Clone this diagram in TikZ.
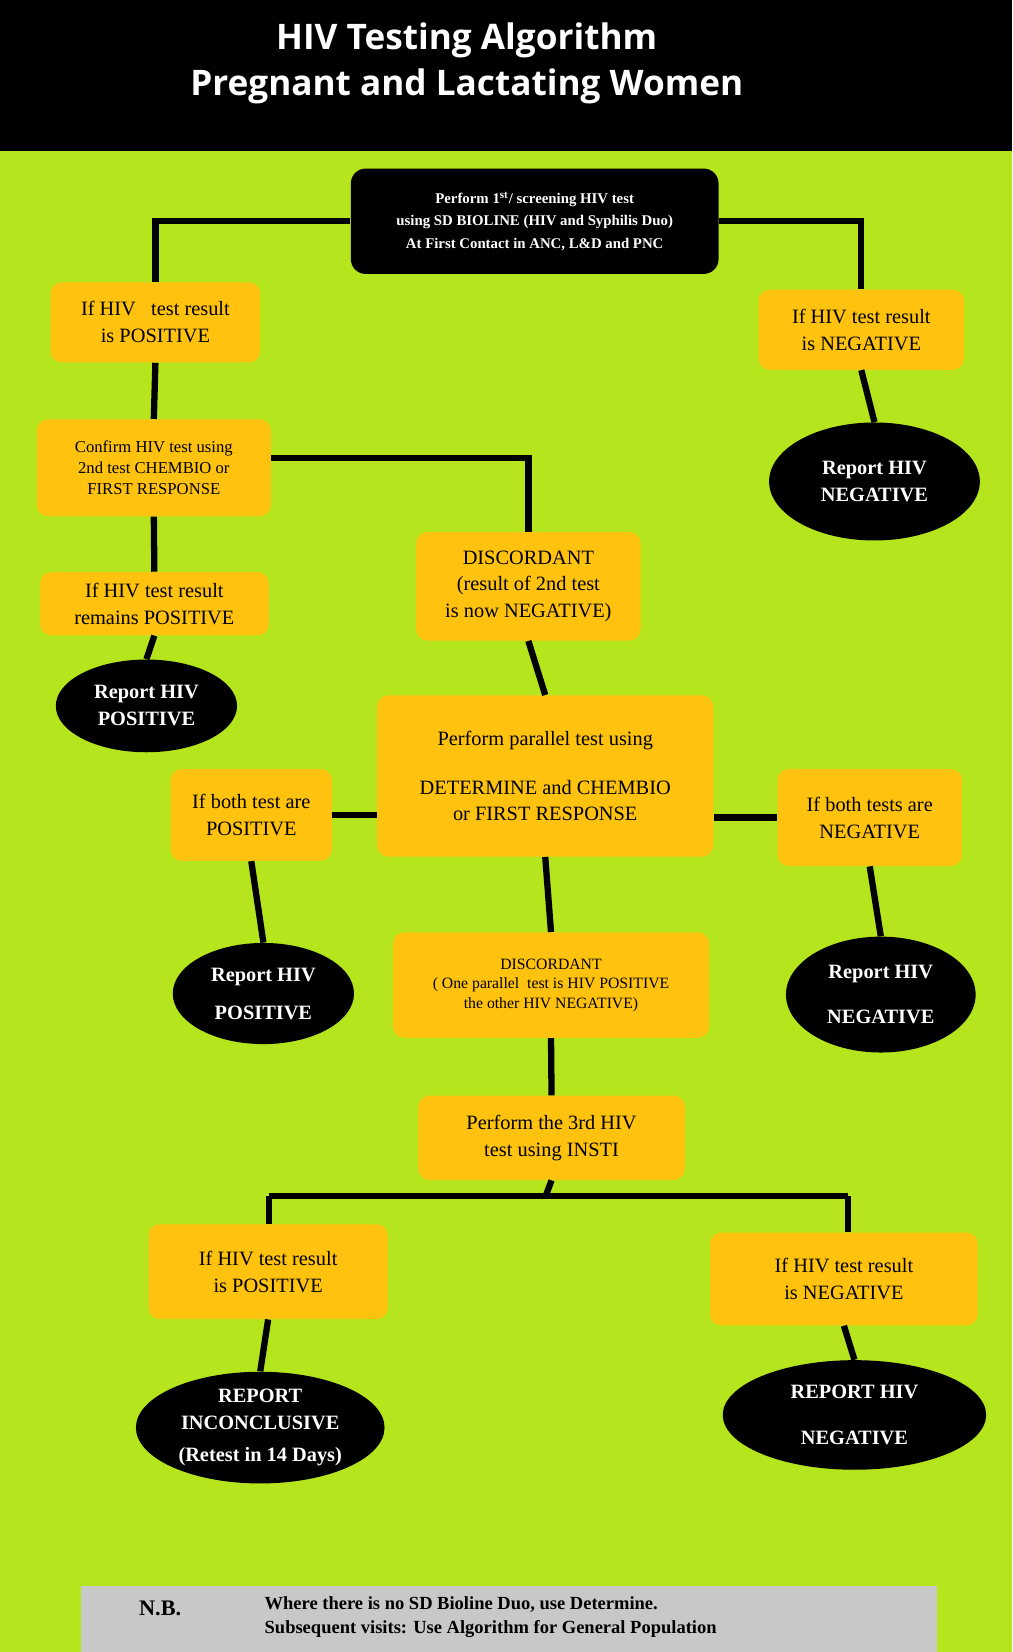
\documentclass[tikz,border=0pt]{standalone}
\usepackage{fontspec}
\usetikzlibrary{shapes.geometric}
\setmainfont{Liberation Serif}
\newfontfamily\titlefont{Open Sans}
\begin{document}
\begin{tikzpicture}[x=0.02cm,y=-0.02cm,
  ybox/.style={fill=yboxc,rounded corners=6pt,inner sep=0pt,align=center,font=\fontsize{11}{14.5}\selectfont},
  bell/.style={ellipse,fill=black,text=white,inner sep=0pt,align=center,font=\bfseries\fontsize{11}{14.5}\selectfont},
  ln/.style={line width=3.4pt}]
\definecolor{bg}{HTML}{B5E61D}
\definecolor{yboxc}{HTML}{FFC20E}
\definecolor{nb}{HTML}{C8C8C8}
\useasboundingbox (0,0) rectangle (961,1568);
\fill[bg] (0,0) rectangle (961,1568);
\fill[black] (0,0) rectangle (961,143);
\node[text=white,align=center,font=\titlefont\bfseries\fontsize{19}{25}\selectfont] (title) at (443,60) {HIV Testing Algorithm\\Pregnant and Lactating Women};
% nodes
\node[fill=black,rounded corners=8pt,minimum width=349*0.02cm,minimum height=100*0.02cm,text=white,align=center,font=\bfseries\fontsize{8}{12}\selectfont] (top) at (507.5,210) {Perform 1\textsuperscript{st}/ screening HIV test\\using SD BIOLINE (HIV and Syphilis Duo)\\At First Contact in ANC, L\&D and PNC};
\node[ybox,minimum width=199*0.02cm,minimum height=76*0.02cm] (A) at (147.5,306) {If HIV\ \ \ test result\\is POSITIVE};
\node[ybox,minimum width=195*0.02cm,minimum height=76*0.02cm] (B) at (817.5,313) {If HIV test result\\is NEGATIVE};
\node[bell,minimum width=200*0.02cm,minimum height=112*0.02cm] (eB) at (830,457) {Report HIV\\NEGATIVE};
\node[ybox,minimum width=222*0.02cm,minimum height=92*0.02cm,font=\fontsize{9}{11.5}\selectfont] (C) at (146,444) {Confirm HIV test using\\2nd test CHEMBIO or\\FIRST RESPONSE};
\node[ybox,minimum width=213*0.02cm,minimum height=103*0.02cm] (D) at (501.5,556.5) {DISCORDANT\\(result of 2nd test\\is now NEGATIVE)};
\node[ybox,minimum width=217*0.02cm,minimum height=60*0.02cm] (E) at (146.5,573) {If HIV test result\\remains POSITIVE};
\node[bell,minimum width=172*0.02cm,minimum height=88*0.02cm] (eE) at (139,670) {Report HIV\\POSITIVE};
\node[ybox,minimum width=319*0.02cm,minimum height=153*0.02cm] (F) at (517.5,736.5) {Perform parallel test using\\[12pt]DETERMINE and CHEMBIO\\or FIRST RESPONSE};
\node[ybox,minimum width=153*0.02cm,minimum height=87*0.02cm] (G) at (238.5,773.5) {If both test are\\POSITIVE};
\node[ybox,minimum width=175*0.02cm,minimum height=92*0.02cm] (H) at (825.5,776) {If both tests are\\NEGATIVE};
\node[bell,minimum width=172*0.02cm,minimum height=96*0.02cm] (eG) at (250,943) {Report HIV\\[6pt]POSITIVE};
\node[bell,minimum width=180*0.02cm,minimum height=110*0.02cm] (eH) at (836,944) {Report HIV\\[10pt]NEGATIVE};
\node[ybox,minimum width=300*0.02cm,minimum height=100*0.02cm,font=\fontsize{8.5}{10.5}\selectfont] (I) at (523,935) {DISCORDANT\\( One parallel\ \ test is HIV POSITIVE\\the other HIV NEGATIVE)};
\node[ybox,minimum width=253*0.02cm,minimum height=80*0.02cm] (J) at (523.5,1080) {Perform the 3rd HIV\\test using INSTI};
\node[ybox,minimum width=227*0.02cm,minimum height=90*0.02cm] (K) at (254.5,1207) {If HIV test result\\is POSITIVE};
\node[ybox,minimum width=254*0.02cm,minimum height=88*0.02cm] (L) at (801,1214) {If HIV test result\\is NEGATIVE};
\node[bell,minimum width=236*0.02cm,minimum height=106*0.02cm] (eK) at (247,1355) {REPORT\\INCONCLUSIVE\\[3pt](Retest in 14 Days)};
\node[bell,minimum width=250*0.02cm,minimum height=104*0.02cm] (eL) at (811,1343) {REPORT HIV\\[10pt]NEGATIVE};
% connectors
\draw[ln] (top.west) -| (A.north);
\draw[ln] (top.east) -| (B.north);
\draw[ln] (B.south) -- (eB.north);
\draw[ln] (A.south) -- (C.north);
\draw[ln] ([yshift=0.18cm]C.east) -| (D.north);
\draw[ln] (C.south) -- (E.north);
\draw[ln] (E.south) -- (eE.north);
\draw[ln] (D.south) -- (F.north);
\draw[ln] (G.east) -- (G.east -| F.west);
\draw[ln] (H.west -| F.east) -- (H.west);
\draw[ln] (G.south) -- (eG.north);
\draw[ln] (H.south) -- (eH.north);
\draw[ln] (F.south) -- (I.north);
\draw[ln] (I.south) -- (J.north);
\coordinate (jn) at (518,1135);
\coordinate (kl) at (255,1135);
\coordinate (lr) at (805,1135);
\draw[ln] (J.south) -- (jn);
\draw[ln] (kl) -- (lr);
\draw[ln] (kl) -- (kl |- K.north);
\draw[ln] (lr) -- (lr |- L.north);
\draw[ln] (K.south) -- (eK.north);
\draw[ln] (L.south) -- (eL.north);
% NB bar
\fill[nb] (77,1505) rectangle (889,1568);
\node[font=\bfseries\fontsize{12}{14}\selectfont] (nbl) at (152,1527) {N.B.};
\node[anchor=west,align=left,font=\bfseries\fontsize{10}{13}\selectfont] (nbt) at (245,1535) {Where there is no SD Bioline Duo, use Determine.\\Subsequent visits: Use Algorithm for General Population};
\end{tikzpicture}
\end{document}
